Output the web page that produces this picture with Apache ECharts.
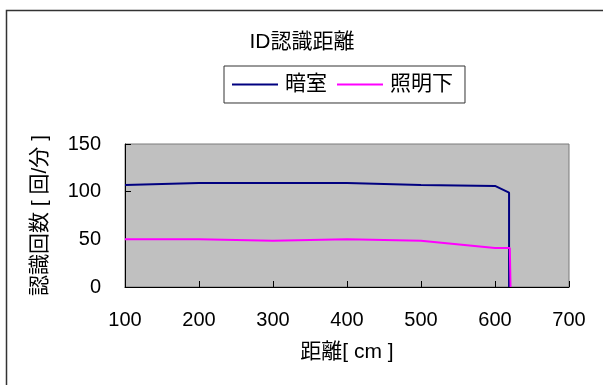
<!DOCTYPE html>
<html>
<head>
<meta charset="utf-8">
<script src="https://cdn.jsdelivr.net/npm/echarts@6/dist/echarts.min.js"></script>
<style>html,body{margin:0;padding:0;background:#fff;}#c{width:603px;height:385px;}</style>
</head>
<body>
<div id="c"></div>
<script>
const titleText = 'ID認識距離';
const seriesNames = ['暗室', '照明下'];
const darkX = [100, 200, 300, 400, 500, 600, 619, 619];
const darkY = [107, 109, 109, 109, 107, 106, 99, 0];
const litX = [100, 200, 300, 400, 500, 600, 620, 621];
const litY = [50, 50, 48.5, 50, 48.5, 41, 41, 0];
const xTicks = [100, 200, 300, 400, 500, 600, 700];
const yTicks = [0, 50, 100, 150];

const FONT = '"Liberation Sans", "Noto Sans CJK JP", sans-serif';
const chart = echarts.init(document.getElementById('c'));
chart.setOption({
  backgroundColor: '#fff',
  animation: false,
  graphic: [
    { type: 'rect', shape: { x: 6.5, y: 10.5, width: 640, height: 420 }, style: { fill: 'none', stroke: '#333', lineWidth: 1.5 }, silent: true },
    { type: 'text', x: 302, y: 42, style: { text: titleText, fontSize: 21, fontFamily: FONT, fill: '#000', align: 'center', verticalAlign: 'middle' } }
  ],
  legend: {
    left: 224, top: 66,
    padding: [8, 12, 8, 8],
    borderColor: '#333', borderWidth: 1, backgroundColor: '#fff',
    icon: 'rect', itemWidth: 46, itemHeight: 2, itemGap: 10,
    textStyle: { fontSize: 21, fontFamily: FONT, color: '#000', padding: [0, 0, 0, 2] },
    data: seriesNames
  },
  grid: {
    left: 125, right: 34, top: 144, bottom: 98,
    show: true, backgroundColor: '#c0c0c0', borderColor: '#7a7a7a', borderWidth: 1,
    containLabel: false
  },
  xAxis: {
    type: 'value', min: xTicks[0], max: xTicks[xTicks.length - 1], interval: 100,
    name: '距離[ cm ]', nameLocation: 'middle', nameGap: 55,
    nameTextStyle: { fontSize: 21, fontFamily: FONT, color: '#000' },
    axisLine: { show: true, lineStyle: { color: '#000', width: 1 } },
    axisTick: { show: true, inside: true, length: 6, lineStyle: { color: '#000' } },
    axisLabel: { fontSize: 20, fontFamily: FONT, color: '#000', margin: 23 },
    splitLine: { show: false }
  },
  yAxis: {
    type: 'value', min: yTicks[0], max: yTicks[yTicks.length - 1], interval: 50,
    name: '認識回数 [ 回/分 ]', nameLocation: 'middle', nameGap: 74, nameRotate: 90,
    nameTextStyle: { fontSize: 21, fontFamily: FONT, color: '#000' },
    axisLine: { show: true, lineStyle: { color: '#000', width: 1 } },
    axisTick: { show: true, inside: true, length: 6, lineStyle: { color: '#000' } },
    axisLabel: { fontSize: 20, fontFamily: FONT, color: '#000', margin: 24 },
    splitLine: { show: false }
  },
  series: [
    { name: seriesNames[0], type: 'line', symbol: 'none', data: darkX.map((x, i) => [x, darkY[i]]), lineStyle: { color: '#000080', width: 2 }, itemStyle: { color: '#000080' } },
    { name: seriesNames[1], type: 'line', symbol: 'none', data: litX.map((x, i) => [x, litY[i]]), lineStyle: { color: '#ff00ff', width: 2 }, itemStyle: { color: '#ff00ff' } }
  ]
});
</script>
</body>
</html>
